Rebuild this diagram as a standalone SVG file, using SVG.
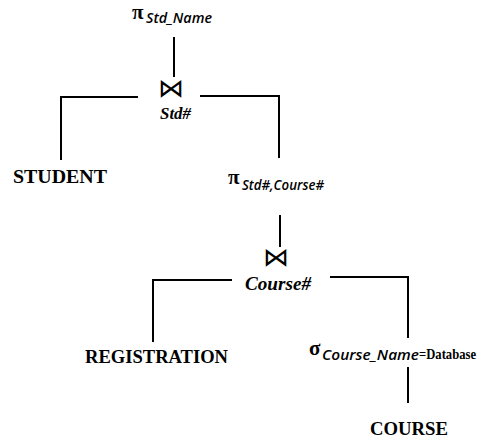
<svg xmlns="http://www.w3.org/2000/svg" width="481" height="448" viewBox="0 0 481 448">
<style>
.ln{fill:none;stroke:#000;stroke-width:2}
.op{font-family:"Liberation Serif","Times New Roman",serif;font-weight:bold;font-size:21px;fill:#000}
.sub{font-family:"Open Sans","Noto Sans",sans-serif;font-style:italic;font-weight:600;font-size:15px;fill:#000}
.rel{font-family:"Liberation Serif","Times New Roman",serif;font-weight:bold;font-size:19px;fill:#000}
.cond{font-family:"Liberation Serif","Times New Roman",serif;font-style:italic;font-weight:bold;fill:#000}
.bt{font-family:"DejaVu Sans",sans-serif;font-size:26px;fill:#000;text-anchor:middle}
.db{font-family:"Liberation Serif","Times New Roman",serif;font-weight:bold;font-size:14px;fill:#000}
</style>
<rect width="481" height="448" fill="#fff"/>
<g id="connectors">
<line class="ln" x1="174" y1="37" x2="174" y2="77"/>
<polyline class="ln" points="138,97 61,97 61,160"/>
<polyline class="ln" points="200,96 279,96 279,158"/>
<line class="ln" x1="280" y1="215" x2="280" y2="247"/>
<polyline class="ln" points="232,280 153,280 153,342"/>
<polyline class="ln" points="330,277 408,277 408,338"/>
<line class="ln" x1="408" y1="367" x2="408" y2="403"/>
</g>
<g id="proj-std-name">
<text class="op" x="132" y="19">π</text>
<text class="sub" x="146" y="23" textLength="66" lengthAdjust="spacingAndGlyphs">Std_Name</text>
</g>
<g id="join-std">
<text class="bt" x="171" y="97">⋈</text>
<text class="cond" x="160" y="119" font-size="17" textLength="31" lengthAdjust="spacingAndGlyphs">Std#</text>
</g>
<g id="student">
<text class="rel" x="13" y="183" textLength="94" lengthAdjust="spacingAndGlyphs">STUDENT</text>
</g>
<g id="proj-std-course">
<text class="op" x="228" y="184">π</text>
<text class="sub" x="242" y="190" textLength="82" lengthAdjust="spacingAndGlyphs">Std#,Course#</text>
</g>
<g id="join-course">
<text class="bt" x="276" y="266">⋈</text>
<text class="cond" x="245" y="290" font-size="19" textLength="66" lengthAdjust="spacingAndGlyphs">Course#</text>
</g>
<g id="registration">
<text class="rel" x="85" y="363" textLength="143" lengthAdjust="spacingAndGlyphs">REGISTRATION</text>
</g>
<g id="select">
<text class="op" x="309" y="355">σ</text>
<text class="sub" x="322" y="360" textLength="97" lengthAdjust="spacingAndGlyphs">Course_Name</text>
<text class="db" x="419" y="359" textLength="57" lengthAdjust="spacingAndGlyphs">=Database</text>
</g>
<g id="course">
<text class="rel" x="370" y="435" textLength="78" lengthAdjust="spacingAndGlyphs">COURSE</text>
</g>
</svg>
